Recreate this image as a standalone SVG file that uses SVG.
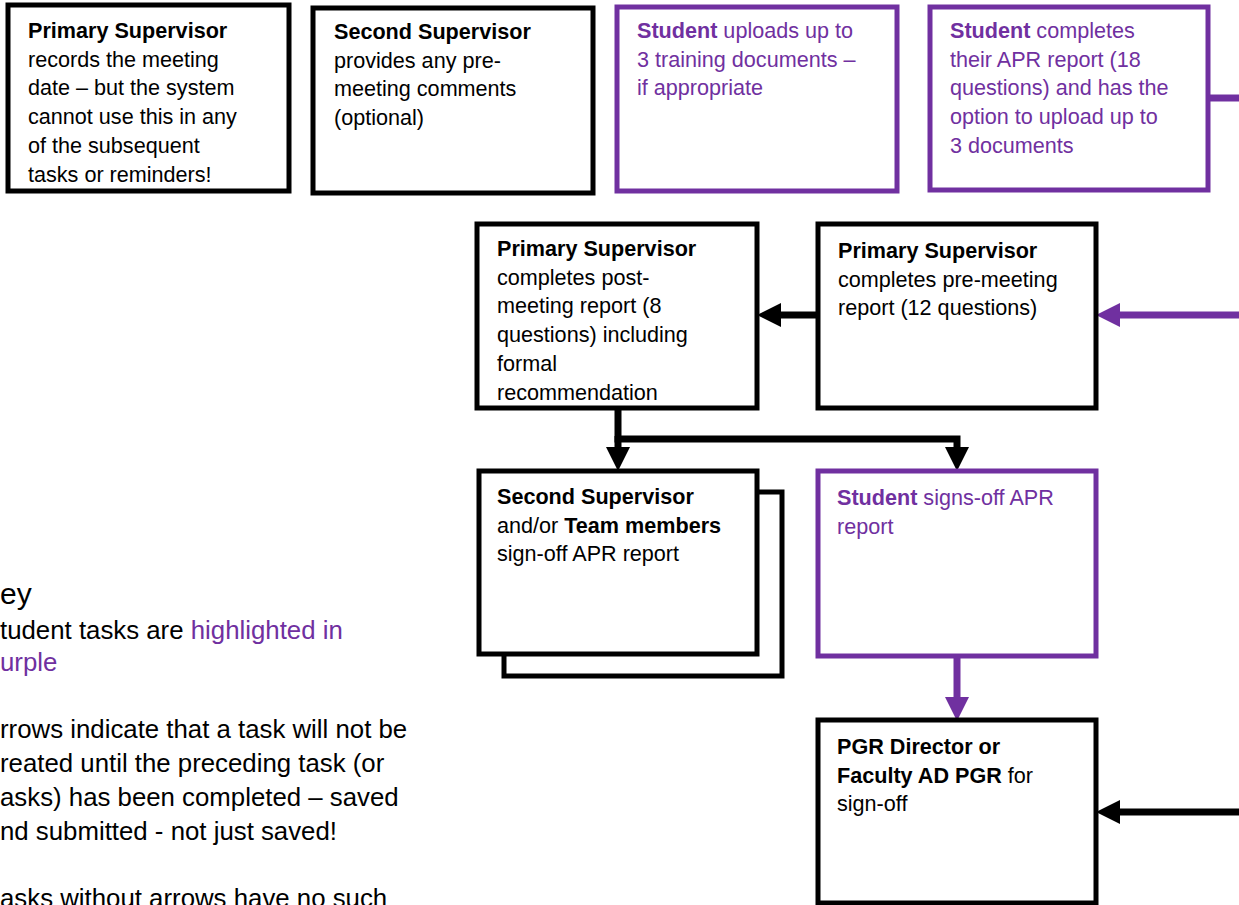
<svg xmlns="http://www.w3.org/2000/svg" width="1239" height="905" viewBox="0 0 1239 905">
<defs>
<style>
.t{font-family:"Liberation Sans",Arial,sans-serif;font-size:21.6px;fill:#000}
.k{font-family:"Liberation Sans",Arial,sans-serif;font-size:25.8px;fill:#000}
.p{fill:#7030A0}
.b{font-weight:bold}
.bx{fill:#fff;stroke:#000;stroke-width:5}
.pb{fill:#fff;stroke:#7030A0;stroke-width:5}
.ln{fill:none;stroke:#000;stroke-width:7}
.pl{fill:none;stroke:#7030A0;stroke-width:7}
</style>
<marker id="ah" viewBox="0 0 24 24" markerWidth="24" markerHeight="24" refX="0" refY="12" orient="auto" markerUnits="userSpaceOnUse"><path d="M0,0 L24,12 L0,24 z" fill="#000"/></marker>
<marker id="ahp" viewBox="0 0 24 24" markerWidth="24" markerHeight="24" refX="0" refY="12" orient="auto" markerUnits="userSpaceOnUse"><path d="M0,0 L24,12 L0,24 z" fill="#7030A0"/></marker>
</defs>
<rect width="1239" height="905" fill="#fff"/>

<g id="connectors">
<path class="pl" d="M1208,98 H1239"/>
<path class="ln" d="M816,315 H781" marker-end="url(#ah)"/>
<path class="pl" d="M1239,315 H1120" marker-end="url(#ahp)"/>
<path class="ln" d="M618,408 V439 H957 V447" marker-end="url(#ah)"/>
<path class="ln" d="M618,436 V447" marker-end="url(#ah)"/>
<path class="pl" d="M957,657 V697" marker-end="url(#ahp)"/>
<path class="ln" d="M1239,812 H1120" marker-end="url(#ah)"/>
</g>

<g id="n1">
<rect class="bx" x="8" y="5" width="281" height="186"/>
<text class="t" x="28" y="38"><tspan class="b">Primary Supervisor</tspan><tspan x="28" dy="28.7">records the meeting</tspan><tspan x="28" dy="28.7">date – but the system</tspan><tspan x="28" dy="28.7">cannot use this in any</tspan><tspan x="28" dy="28.7">of the subsequent</tspan><tspan x="28" dy="28.7">tasks or reminders!</tspan></text>
</g>

<g id="n2">
<rect class="bx" x="313" y="8" width="280" height="185"/>
<text class="t" x="334" y="39"><tspan class="b">Second Supervisor</tspan><tspan x="334" dy="28.7">provides any pre-</tspan><tspan x="334" dy="28.7">meeting comments</tspan><tspan x="334" dy="28.7">(optional)</tspan></text>
</g>

<g id="n3">
<rect class="pb" x="617" y="7" width="280" height="184"/>
<text class="t p" x="637" y="38"><tspan class="b">Student</tspan> uploads up to<tspan x="637" dy="28.7">3 training documents –</tspan><tspan x="637" dy="28.7">if appropriate</tspan></text>
</g>

<g id="n4">
<rect class="pb" x="930" y="7" width="278" height="183"/>
<text class="t p" x="950" y="38"><tspan class="b">Student</tspan> completes<tspan x="950" dy="28.7">their APR report (18</tspan><tspan x="950" dy="28.7">questions) and has the</tspan><tspan x="950" dy="28.7">option to upload up to</tspan><tspan x="950" dy="28.7">3 documents</tspan></text>
</g>

<g id="n5">
<rect class="bx" x="477" y="224" width="280" height="184"/>
<text class="t" x="497" y="256"><tspan class="b">Primary Supervisor</tspan><tspan x="497" dy="28.7">completes post-</tspan><tspan x="497" dy="28.7">meeting report (8</tspan><tspan x="497" dy="28.7">questions) including</tspan><tspan x="497" dy="28.7">formal</tspan><tspan x="497" dy="28.7">recommendation</tspan></text>
</g>

<g id="n6">
<rect class="bx" x="818" y="224" width="278" height="184"/>
<text class="t" x="838" y="258"><tspan class="b">Primary Supervisor</tspan><tspan x="838" dy="28.7">completes pre-meeting</tspan><tspan x="838" dy="28.7">report (12 questions)</tspan></text>
</g>

<g id="n7">
<rect class="bx" x="504" y="492" width="278" height="184"/>
<rect class="bx" x="479" y="471" width="278" height="183"/>
<text class="t" x="497" y="504"><tspan class="b">Second Supervisor</tspan><tspan x="497" dy="28.7">and/or </tspan><tspan class="b">Team members</tspan><tspan x="497" dy="28.7">sign-off APR report</tspan></text>
</g>

<g id="n8">
<rect class="pb" x="818" y="471" width="278" height="185"/>
<text class="t p" x="837" y="505"><tspan class="b">Student</tspan> signs-off APR<tspan x="837" dy="28.7">report</tspan></text>
</g>

<g id="n9">
<rect class="bx" x="818" y="720" width="278" height="183"/>
<text class="t" x="837" y="754"><tspan class="b">PGR Director or</tspan><tspan x="837" dy="28.7" class="b">Faculty AD PGR</tspan><tspan> for</tspan><tspan x="837" dy="28.7">sign-off</tspan></text>
</g>

<g id="key">
<text class="k" x="0" y="604" style="font-size:30px">ey</text>
<text class="k" x="0" y="639">tudent tasks are <tspan class="p">highlighted in</tspan></text>
<text class="k p" x="0" y="671">urple</text>
<text class="k" x="0" y="738">rrows indicate that a task will not be</text>
<text class="k" x="0" y="772">reated until the preceding task (or</text>
<text class="k" x="0" y="806">asks) has been completed – saved</text>
<text class="k" x="0" y="840">nd submitted - not just saved!</text>
<text class="k" x="0" y="907">asks without arrows have no such</text>
</g>
</svg>
